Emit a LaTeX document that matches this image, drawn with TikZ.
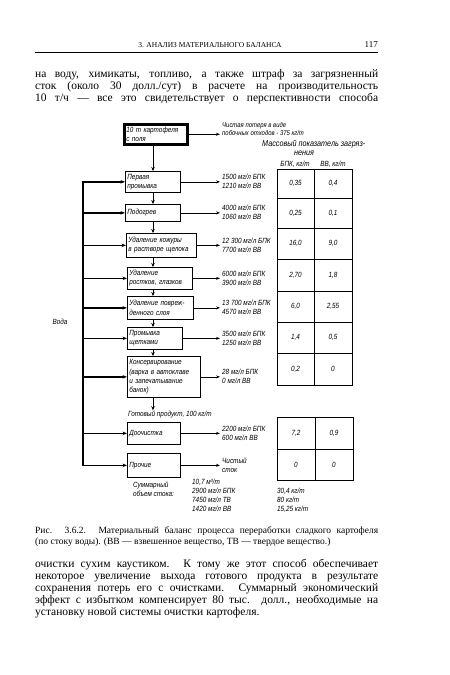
\documentclass[tikz,border=0pt]{standalone}
\usepackage{fontspec}
\setmainfont{Liberation Serif}
\newfontfamily\dfont[FakeStretch=0.85]{Liberation Sans}
\usetikzlibrary{arrows.meta}
\begin{document}
\begin{tikzpicture}[x=1pt,y=-1pt,
  bx/.style={draw, line width=0.7pt, inner sep=2pt, align=left, anchor=north west, font=\dfont\itshape\fontsize{7.5}{9.2}\selectfont},
  lbl/.style={inner sep=0pt, align=left, font=\dfont\itshape\fontsize{7.5}{9}\selectfont},
  sml/.style={inner sep=0pt, align=left, font=\dfont\itshape\fontsize{7}{8}\selectfont},
  val/.style={inner sep=0pt, font=\dfont\itshape\fontsize{7.5}{9}\selectfont},
  flow/.style={line width=0.7pt, -{Stealth[length=4pt,width=3pt]}},
  chain/.style={line width=1pt, -{Stealth[length=4pt,width=3.5pt]}},
  water/.style={line width=1.4pt, -{Stealth[length=4.5pt,width=3.5pt]}},
  gridl/.style={line width=0.7pt},
  body/.style={inner sep=0pt, anchor=base west, font=\fontsize{11.5}{12}\selectfont},
  capt/.style={inner sep=0pt, anchor=base west, font=\fontsize{9.5}{11}\selectfont},
]
\useasboundingbox (0,0) rectangle (450,675);
\fill[white] (0,0) rectangle (450,675);

% header
\node[inner sep=0pt, anchor=base, font=\fontsize{7.5}{9}\selectfont] (head) at (210,47) {3. АНАЛИЗ МАТЕРИАЛЬНОГО БАЛАНСА};
\node[inner sep=0pt, anchor=base east, font=\fontsize{9}{10}\selectfont] (pg) at (378,47) {117};
\coordinate (hl1) at (35,52);
\coordinate (hl2) at (378,52);
\draw[line width=0.6pt] (hl1) -- (hl2);

% top paragraph
\node[body] (p1) at (35,77) {\makebox[343pt][s]{на воду, химикаты, топливо, а также штраф за загрязненный}};
\node[body] (p2) at (35,89) {\makebox[343pt][s]{сток (около 30 долл./сут) в расчете на производительность}};
\node[body] (p3) at (35,101) {\makebox[343pt][s]{10 т/ч — все это свидетельствует о перспективности способа}};

% diagram boxes
\node[bx, line width=2.5pt, text width=59pt, minimum height=20pt] (T) at (123,123) {10 т картофеля\\с поля};
\node[bx, text width=51pt, minimum height=21pt] (B1) at (125,171) {Первая\\промывка};
\node[bx, text width=51pt, minimum height=17pt] (B2) at (125,204) {Подогрев};
\node[bx, text width=66pt, minimum height=24pt] (B3) at (126,233) {Удаление кожуры\\в растворе щелока};
\node[bx, text width=61pt, minimum height=22pt] (B4) at (127,267) {Удаление\\ростков, глазков};
\node[bx, text width=62pt, minimum height=23pt] (B5) at (127,296) {Удаление повреж-\\денного слоя};
\node[bx, text width=51pt, minimum height=22pt] (B6) at (127,327) {Промывка\\щетками};
\node[bx, text width=69pt, minimum height=41pt] (B7) at (127,356) {Консервирование\\(варка в автоклаве\\и запечатывание\\банок)};
\node[lbl, anchor=base west] (prod) at (128,416) {Готовый продукт, 100 кг/т};
\node[bx, text width=49pt, minimum height=22pt] (B8) at (127,422) {Доочистка};
\node[bx, text width=49pt, minimum height=24pt] (B9) at (127,453) {Прочие};

% chain of process
\coordinate (cx) at (153,0);
\draw[chain] (cx |- T.south) -- (cx |- B1.north);
\draw[chain] (cx |- B1.south) -- (cx |- B2.north);
\draw[chain] (cx |- B2.south) -- (cx |- B3.north);
\draw[chain] (cx |- B3.south) -- (cx |- B4.north);
\draw[chain] (cx |- B4.south) -- (cx |- B5.north);
\draw[chain] (cx |- B5.south) -- (cx |- B6.north);
\draw[chain] (cx |- B6.south) -- (cx |- B7.north);
\draw[chain] (cx |- B7.south) -- (cx |- prod.north);

% water
\coordinate (wx) at (83,0);
\node[lbl] (voda) at (60,322) {Вода};
\draw[line width=1.4pt, line cap=rect] (wx |- B1.west) -- (wx |- B9.west);
\foreach \b in {B1,B2,B3,B4,B5,B6,B7,B8,B9} {
  \draw[water] (wx |- \b.west) -- (\b.west);
}

% top right texts
\node[sml, anchor=west] (loss) at (222,129) {Чистая потеря в виде\\побочных отходов - 375 кг/т};
\draw[flow, shorten >=2pt] (T.east) -- (T.east -| loss.west);
\node[lbl, anchor=base west, font=\dfont\itshape\fontsize{8.5}{9}\selectfont] (mass) at (262,146) {Массовый показатель загряз-};
\node[lbl, anchor=base, font=\dfont\itshape\fontsize{8.5}{9}\selectfont] (mass2) at (304,155) {нения};
\node[lbl, anchor=base] (u1) at (295,166) {БПК, кг/т};
\node[lbl, anchor=base] (u2) at (333,166) {ВВ, кг/т};

% outputs
\node[lbl, anchor=west] (o1) at (222,181.5) {1500 мг/л БПК\\1210 мг/л ВВ};
\node[lbl, anchor=west] (o2) at (222,212.5) {4000 мг/л БПК\\1060 мг/л ВВ};
\node[lbl, anchor=west] (o3) at (222,245) {12 300 мг/л БПК\\7700 мг/л ВВ};
\node[lbl, anchor=west] (o4) at (222,278) {6000 мг/л БПК\\3900 мг/л ВВ};
\node[lbl, anchor=west] (o5) at (222,307.5) {13 700 мг/л БПК\\4570 мг/л ВВ};
\node[lbl, anchor=west] (o6) at (222,338) {3500 мг/л БПК\\1250 мг/л ВВ};
\node[lbl, anchor=west] (o7) at (222,376.5) {28 мг/л БПК\\0 мг/л ВВ};
\node[lbl, anchor=west] (o8) at (222,433) {2200 мг/л БПК\\600 мг/л ВВ};
\node[lbl, anchor=west] (o9) at (222,465) {Чистый\\сток};
\foreach \i in {1,...,9} {
  \draw[flow, shorten >=2pt] (B\i.east) -- (B\i.east -| o\i.west);
}

% table 1
\draw[gridl] (277,169) rectangle (352,385);
\foreach \yy in {198,228,259,291,322,353} {\draw[gridl] (277,\yy) -- (352,\yy);}
\draw[gridl] (314,169) -- (314,385);
\node[val] (a1) at (295.5,183.5) {0,35}; \node[val] (b1) at (333,183.5) {0,4};
\node[val] (a2) at (295.5,213) {0,25};   \node[val] (b2) at (333,213) {0,1};
\node[val] (a3) at (295.5,243.5) {16,0}; \node[val] (b3) at (333,243.5) {9,0};
\node[val] (a4) at (295.5,275) {2,70};   \node[val] (b4) at (333,275) {1,8};
\node[val] (a5) at (295.5,306.5) {6,0};  \node[val] (b5) at (333,306.5) {2,55};
\node[val] (a6) at (295.5,337.5) {1,4};  \node[val] (b6) at (333,337.5) {0,5};
\node[val] (a7) at (295.5,369) {0,2};    \node[val] (b7) at (333,369) {0};

% table 2
\draw[gridl] (277,417) rectangle (353,480);
\draw[gridl] (277,449) -- (353,449);
\draw[gridl] (315,417) -- (315,480);
\node[val] (a8) at (296,433) {7,2};   \node[val] (b8) at (334,433) {0,9};
\node[val] (a9) at (296,464.5) {0};   \node[val] (b9) at (334,464.5) {0};

% summary
\node[lbl, anchor=north west] (sum1) at (133,482) {Суммарный\\объем стока:};
\node[lbl, anchor=north west] (sum2) at (192,479) {10,7 м³/т\\2900 мг/л БПК\\7450 мг/л ТВ\\1420 мг/л ВВ};
\node[lbl, anchor=north west] (sum3) at (277,488) {30,4 кг/т\\80 кг/т\\15,25 кг/т};

% caption
\node[capt] (c1) at (35,533) {\makebox[343pt][s]{Рис. 3.6.2. Материальный баланс процесса переработки сладкого картофеля}};
\node[capt] (c2) at (35,544) {(по стоку воды). (ВВ — взвешенное вещество, ТВ — твердое вещество.)};

% bottom paragraph
\node[body] (q1) at (35,567) {\makebox[343pt][s]{очистки сухим каустиком. К тому же этот способ обеспечивает}};
\node[body] (q2) at (35,579) {\makebox[343pt][s]{некоторое увеличение выхода готового продукта в результате}};
\node[body] (q3) at (35,591) {\makebox[343pt][s]{сохранения потерь его с очистками. Суммарный экономический}};
\node[body] (q4) at (35,603) {\makebox[343pt][s]{эффект с избытком компенсирует 80 тыс. долл., необходимые на}};
\node[body] (q5) at (35,615) {установку новой системы очистки картофеля.};
\end{tikzpicture}
\end{document}
